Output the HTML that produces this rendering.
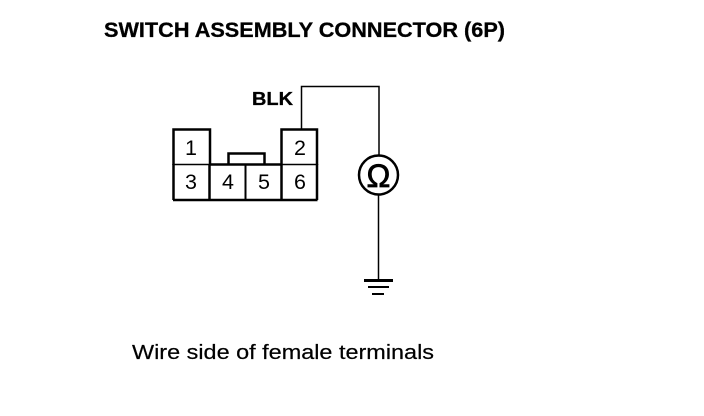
<!DOCTYPE html>
<html>
<head>
<meta charset="utf-8">
<style>
html,body{margin:0;padding:0;background:#fff;width:704px;height:416px;overflow:hidden}
svg{display:block}
text{font-family:"Liberation Sans",sans-serif;fill:#000}
</style>
</head>
<body>
<svg width="704" height="416" viewBox="0 0 704 416" xmlns="http://www.w3.org/2000/svg">
<rect width="704" height="416" fill="#fff"/>
<text x="104" y="37" font-size="21" font-weight="bold" textLength="401" lengthAdjust="spacingAndGlyphs" stroke="#000" stroke-width="0.3">SWITCH ASSEMBLY CONNECTOR (6P)</text>
<text x="252" y="105" font-size="18" font-weight="bold" textLength="41" lengthAdjust="spacingAndGlyphs" stroke="#000" stroke-width="0.3">BLK</text>
<g fill="none" stroke="#000">
<path d="M173.500 165V129.500H210V165M281.500 165V129.500H317V165" stroke-width="2.500"/>
<path d="M173.500 164.500H210M281 164.500H317" stroke-width="1.500"/>
<path d="M209 164.500H282" stroke-width="2.500"/>
<path d="M173 200H317.500M173.500 164V200M317 164V200M209.500 164V200M281.500 164V200" stroke-width="2.500"/>
<path d="M245.500 164V200" stroke-width="2"/>
<path d="M228.500 164V153.500H264.500V164" stroke-width="2.500"/>
<path d="M301.500 129V86.500H379V155" stroke-width="1.500"/>
<circle cx="378.500" cy="175" r="19.500" stroke-width="2.500"/>
<path d="M378.500 195V279" stroke-width="1.500"/>
<path d="M364 280.500H393" stroke-width="3"/>
<path d="M368 287H389" stroke-width="2"/>
<path d="M372 294H384" stroke-width="2"/>
</g>
<g font-size="21.500" text-anchor="middle">
<text x="191" y="155">1</text>
<text x="300" y="155">2</text>
<text x="191" y="189">3</text>
<text x="228" y="189">4</text>
<text x="264" y="189">5</text>
<text x="300" y="189">6</text>
</g>
<text x="378.500" y="187" font-size="32" text-anchor="middle" stroke="#000" stroke-width="0.7">Ω</text>
<text x="132" y="359" font-size="20" textLength="302" lengthAdjust="spacingAndGlyphs" stroke="#000" stroke-width="0.2">Wire side of female terminals</text>
</svg>
</body>
</html>
